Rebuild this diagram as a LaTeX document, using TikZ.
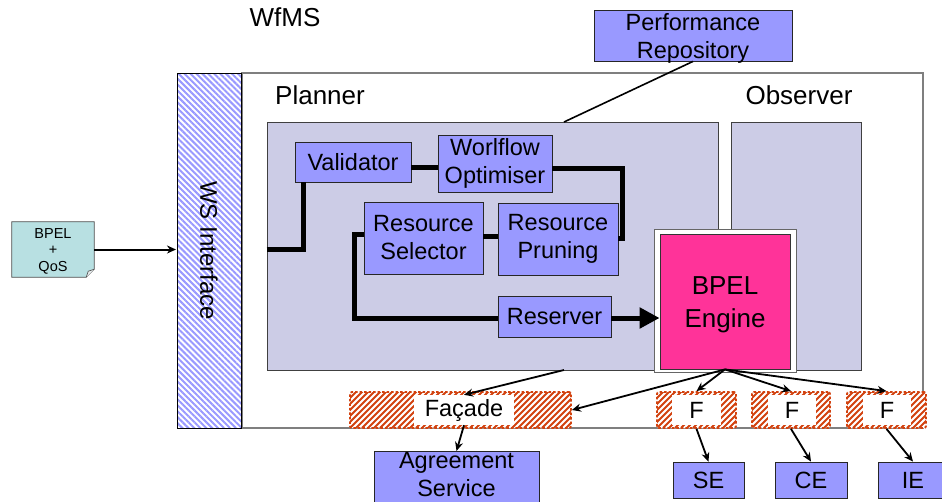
\documentclass[tikz,border=0pt]{standalone}
\usepackage{fontspec}
\setmainfont{Liberation Sans}
\usetikzlibrary{arrows.meta,patterns.meta}
\definecolor{compblue}{HTML}{9999FF}
\definecolor{lav}{HTML}{CCCCE6}
\definecolor{pinkeng}{HTML}{FF3399}
\definecolor{notecol}{HTML}{B8E0E2}
\definecolor{hatchred}{HTML}{D2420F}
\definecolor{framegray}{HTML}{7F7F7F}
\newcommand\compfont{\fontsize{23.5}{28}\selectfont}
\newcommand\labfont{\fontsize{26}{30}\selectfont}
\newcommand\notefont{\fontsize{14.5}{16.5}\selectfont}
\tikzset{
  comp/.style={draw=black!85, fill=compblue, line width=0.8pt, inner sep=0pt, align=center, font=\compfont},
  bgbox/.style={draw=black!75, fill=lav, line width=0.8pt, inner sep=0pt},
  lab/.style={font=\labfont, inner sep=0pt},
  hatchbox/.style={fill=white,
     path picture={\foreach \i in {-60,-54,...,240} {\draw[hatchred, solid, sharp corners, line width=2pt]
        ([xshift=\i pt]path picture bounding box.south west) -- ++(60pt,60pt);}},
     draw=hatchred, line width=1.8pt, dash pattern=on 2.5pt off 2pt, rounded corners=2pt, inner sep=0pt,
     minimum height=36pt},
  whitelab/.style={fill=white, inner sep=0pt, minimum height=30pt, font=\compfont},
  flow/.style={line width=5pt, line join=miter},
  arr/.style={line width=1.8pt, -{Stealth[length=9pt,width=8pt]}},
}
\begin{document}
\begin{tikzpicture}[x=1pt,y=-1pt]
\useasboundingbox (0,0) rectangle (942,501);
% titles
\node[lab] (wfms) at (285,17) {WfMS};
% outer WfMS box
\node[draw=framegray, line width=1.2pt, fill=white, minimum width=681pt, minimum height=355pt, inner sep=0pt] (outer) at (582.5,250.5) {};
% WS interface
\node[draw=black, line width=1pt, pattern={Lines[angle=-45,distance=4.2pt,line width=2pt]}, pattern color=compblue,
      minimum width=64pt, minimum height=355pt, inner sep=0pt] (ws) at (209,250.5) {};
\node[font=\fontsize{24}{28}\selectfont, rotate=-90, inner sep=0pt] (wslab) at (209,250.5) {WS Interface};
% labels
\node[lab] (plab) at (320,95) {Planner};
\node[lab] (olab) at (799,95) {Observer};
% planner and observer areas
\node[bgbox, minimum width=451pt, minimum height=248pt] (pl) at (492.5,246) {};
\node[bgbox, minimum width=130pt, minimum height=248pt] (obs) at (796,246) {};
% BPEL engine
\node[draw=black!60, fill=white, line width=0.6pt, minimum width=142pt, minimum height=143pt, inner sep=0pt] (bframe) at (725,300.5) {};
\node[draw=black!80, fill=pinkeng, line width=0.8pt, minimum width=130pt, minimum height=135pt, inner sep=0pt] (bpel) at (725,301.5) {};
\node[font=\labfont, align=center, inner sep=0pt] (bpeltext) at (725,305) {BPEL\\[3pt]Engine};
% performance repository
\node[comp, minimum width=198pt, minimum height=51pt] (perf) at (693,35.5) {};
\node[font=\compfont, align=center, inner sep=0pt] (perftext) at (693,38) {Performance\\Repository};
% components
\node[comp, minimum width=116pt, minimum height=40pt] (val) at (353,162) {Validator};
\node[comp, minimum width=114pt, minimum height=57pt] (opt) at (495,163.5) {Worlflow\\Optimiser};
\node[comp, minimum width=119pt, minimum height=72pt] (sel) at (423.5,238) {Resource\\Selector};
\node[comp, minimum width=120pt, minimum height=72pt] (prun) at (558,239) {Resource\\Pruning};
\node[comp, minimum width=113pt, minimum height=41pt] (res) at (554.5,316.5) {Reserver};
% thick flow
\coordinate (c1) at (303,249);
\coordinate (c2) at (622,168);
\coordinate (c3) at (622,238);
\coordinate (c4) at (354,234);
\coordinate (c5) at (354,318);
\coordinate (c6) at (0,167);
\coordinate (c7) at (0,236);
\draw[flow] (pl.west |- c1) -- (c1) -- (c1 |- val.south);
\draw[flow] (val.east |- c6) -- (opt.west |- c6);
\draw[flow] (opt.east |- c2) -- (c2) -- (c3) -- (prun.east |- c3);
\draw[flow] (prun.west |- c7) -- (sel.east |- c7);
\draw[flow] (sel.west |- c4) -- (c4) -- (c5) -- (res.west |- c5);
\draw[flow, -{Triangle[length=20pt,width=20pt]}] (res.east |- c5) -- (bpel.west |- c5);
% performance link
\coordinate (pt) at (564,122);
\draw[line width=1.6pt] (perf.south) -- (pt);
% BPEL + QoS note
\node[inner sep=0pt, minimum width=82pt, minimum height=55pt] (note) at (53,249.5) {};
\draw[fill=notecol, draw=black!70, line width=0.7pt] (note.north west) -- (note.north east) -- ([yshift=8pt]note.south east)
  -- ([xshift=-8pt]note.south east) -- (note.south west) -- cycle;
\draw[draw=black!70, fill=notecol!70!black!20, line width=0.6pt] ([yshift=8pt]note.south east) -- ([xshift=-6pt,yshift=6pt]note.south east) -- ([xshift=-8pt]note.south east);
\node[font=\notefont, align=center, inner sep=0pt] (notetext) at (53,251) {BPEL\\+\\QoS};
\draw[line width=2pt, -{Stealth[length=9pt,width=8pt]}] (note.east) -- (note.east -| ws.west);
% facades
\node[hatchbox, minimum width=221pt] (fac) at (460.5,410) {};
\node[whitelab, minimum width=100pt] (facl) at (464,410) {Façade};
\node[hatchbox, minimum width=79pt] (f1) at (696.5,410) {};
\node[whitelab, minimum width=49pt] (f1l) at (696.5,410) {F};
\node[hatchbox, minimum width=78pt] (f2) at (791,410) {};
\node[whitelab, minimum width=48pt] (f2l) at (792,410) {F};
\node[hatchbox, minimum width=79pt] (f3) at (886.5,410) {};
\node[whitelab, minimum width=48pt] (f3l) at (887,410) {F};
% external services
\node[comp, minimum width=165pt, minimum height=70pt, anchor=north] (agree) at (456.5,451) {};
\node[font=\compfont, align=center, inner sep=0pt] (agreetext) at (456.5,475) {Agreement\\Service};
\node[comp, minimum width=71pt, minimum height=36pt] (se) at (708.5,480) {SE};
\node[comp, minimum width=72pt, minimum height=36pt] (ce) at (811,480) {CE};
\node[comp, minimum width=70pt, minimum height=36pt] (ie) at (913,480) {IE};
% thin arrows
\coordinate (pb) at (564,370);
\draw[arr] (pb) -- (facl.north);
\draw[arr] (bpel.south) -- (fac.east);
\draw[arr] (bpel.south) -- (f1.north);
\draw[arr] (bpel.south) -- (f2.north);
\draw[arr] (bpel.south) -- (f3.north);
\draw[arr] (facl.south) -- (agree.north);
\draw[arr] (f1.south) -- (se.north);
\draw[arr] (f2.south) -- (ce.north);
\draw[arr] (f3.south) -- (ie.north);
\end{tikzpicture}
\end{document}
